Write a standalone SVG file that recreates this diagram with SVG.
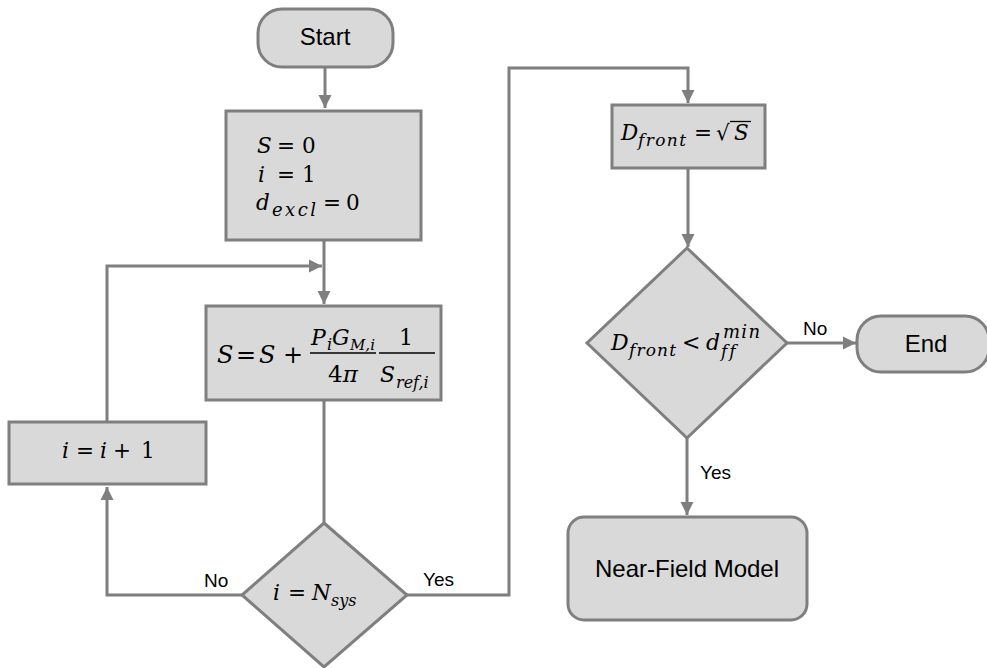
<svg xmlns="http://www.w3.org/2000/svg" width="987" height="668" viewBox="0 0 987 668">
  <style>
    .box { fill: #d9d9d9; stroke: #7f7f7f; stroke-width: 3; }
    .edge { fill: none; stroke: #7f7f7f; stroke-width: 3; }
    .lbl { font-family: "Liberation Sans", Arial, sans-serif; fill: #000; }
    .m { font-family: "DejaVu Serif", "Liberation Serif", serif; fill: #000; }
    .v { font-style: italic; }
    .bar { stroke: #000; stroke-width: 1.5; }
  </style>
  <defs>
    <marker id="arrow" markerUnits="userSpaceOnUse" markerWidth="14" markerHeight="14" viewBox="0 0 14 14" refX="13" refY="7" orient="auto">
      <path d="M0,0.5 L13,7 L0,13.5 Z" fill="#7f7f7f"/>
    </marker>
  </defs>

  <rect width="987" height="668" fill="#ffffff"/>

  <!-- connectors -->
  <g id="connectors">
    <path class="edge" d="M325,67 V108" marker-end="url(#arrow)"/>
    <path class="edge" d="M324,240 V304" marker-end="url(#arrow)"/>
    <path class="edge" d="M107,421 V266 H322" marker-end="url(#arrow)"/>
    <path class="edge" d="M324,400 V523"/>
    <path class="edge" d="M242,595 H107 V487" marker-end="url(#arrow)"/>
    <path class="edge" d="M407,595 H509 V68 H688 V103" marker-end="url(#arrow)"/>
    <path class="edge" d="M688,169 V247" marker-end="url(#arrow)"/>
    <path class="edge" d="M787,343 H856" marker-end="url(#arrow)"/>
    <path class="edge" d="M687,438 V515" marker-end="url(#arrow)"/>
    <text class="lbl" x="204" y="587" font-size="19">No</text>
    <text class="lbl" x="423" y="586" font-size="19">Yes</text>
    <text class="lbl" x="803" y="335" font-size="19">No</text>
    <text class="lbl" x="700" y="479" font-size="19">Yes</text>
  </g>

  <!-- start -->
  <g id="start">
    <rect class="box" x="258" y="9" width="135" height="58" rx="24"/>
    <text class="lbl" x="325" y="45" font-size="24" text-anchor="middle">Start</text>
  </g>

  <!-- initialisation -->
  <g id="init">
    <rect class="box" x="226" y="111" width="195" height="129"/>
    <g class="m" font-size="21.5">
      <text x="257" y="153" class="v">S</text>
      <text x="277" y="153">=</text>
      <text x="302" y="153">0</text>
      <text x="258" y="182" class="v">i</text>
      <text x="277" y="182">=</text>
      <text x="302" y="182">1</text>
      <text x="256" y="210" class="v">d</text>
      <text x="272" y="216" class="v" font-size="18" textLength="44" lengthAdjust="spacing">excl</text>
      <text x="323" y="210">=</text>
      <text x="346" y="210">0</text>
    </g>
  </g>

  <!-- accumulation step -->
  <g id="accumulate">
    <rect class="box" x="206" y="306" width="235" height="94"/>
    <g class="m">
      <text x="217" y="363" font-size="24" class="v">S</text>
      <text x="236" y="363" font-size="24">=</text>
      <text x="259" y="363" font-size="24" class="v">S</text>
      <text x="283" y="363" font-size="24">+</text>
      <line class="bar" x1="310" y1="353" x2="376" y2="353"/>
      <text x="311" y="345" font-size="22" class="v">P</text>
      <text x="327" y="350" font-size="16" class="v">i</text>
      <text x="332" y="345" font-size="22" class="v">G</text>
      <text x="350" y="350" font-size="15" class="v">M,i</text>
      <text x="343" y="382" font-size="23" text-anchor="middle">4<tspan class="v">π</tspan></text>
      <line class="bar" x1="379" y1="353" x2="435" y2="353"/>
      <text x="406" y="345" font-size="22" text-anchor="middle">1</text>
      <text x="380" y="382" font-size="22" class="v">S</text>
      <text x="396" y="388" font-size="16" class="v">ref,i</text>
    </g>
  </g>

  <!-- increment -->
  <g id="increment">
    <rect class="box" x="9" y="422" width="197" height="62"/>
    <g class="m" font-size="21.5">
      <text x="62" y="458" class="v">i</text>
      <text x="76" y="458">=</text>
      <text x="100" y="458" class="v">i</text>
      <text x="113" y="458">+</text>
      <text x="141" y="458">1</text>
    </g>
  </g>

  <!-- loop test -->
  <g id="test-n">
    <path class="box" d="M324,523 L407,595 L324,667 L242,595 Z"/>
    <g class="m" font-size="21.5">
      <text x="273" y="600" class="v">i</text>
      <text x="288" y="600">=</text>
      <text x="312" y="600" class="v">N</text>
      <text x="331" y="606" font-size="16" class="v">sys</text>
    </g>
  </g>

  <!-- front size -->
  <g id="front">
    <rect class="box" x="612" y="105" width="153" height="63"/>
    <g class="m" font-size="21.5">
      <text x="621" y="140" class="v">D</text>
      <text x="638" y="146" font-size="17" class="v" textLength="48" lengthAdjust="spacing">front</text>
      <text x="694" y="140">=</text>
      <text x="716" y="140">√</text>
      <line x1="730" y1="121.5" x2="751" y2="121.5" stroke="#000" stroke-width="1.3"/>
      <text x="734" y="140" class="v">S</text>
    </g>
  </g>

  <!-- far-field test -->
  <g id="test-ff">
    <path class="box" d="M687,248 L787,343 L687,438 L587,343 Z"/>
    <g class="m" font-size="22">
      <text x="611" y="350" class="v">D</text>
      <text x="629" y="356" font-size="17" class="v" textLength="47" lengthAdjust="spacing">front</text>
      <text x="682" y="350">&lt;</text>
      <text x="706" y="350" class="v">d</text>
      <text x="721" y="357" font-size="17" class="v" letter-spacing="2">ff</text>
      <text x="723" y="338" font-size="18" class="v" textLength="37" lengthAdjust="spacing">min</text>
    </g>
  </g>

  <!-- end -->
  <g id="end">
    <rect class="box" x="857" y="316" width="132" height="56" rx="24"/>
    <text class="lbl" x="926" y="352" font-size="24" text-anchor="middle">End</text>
  </g>

  <!-- near-field model -->
  <g id="near-field">
    <rect class="box" x="568" y="517" width="239" height="103" rx="16"/>
    <text class="lbl" x="687" y="577" font-size="24" text-anchor="middle">Near-Field Model</text>
  </g>
</svg>
